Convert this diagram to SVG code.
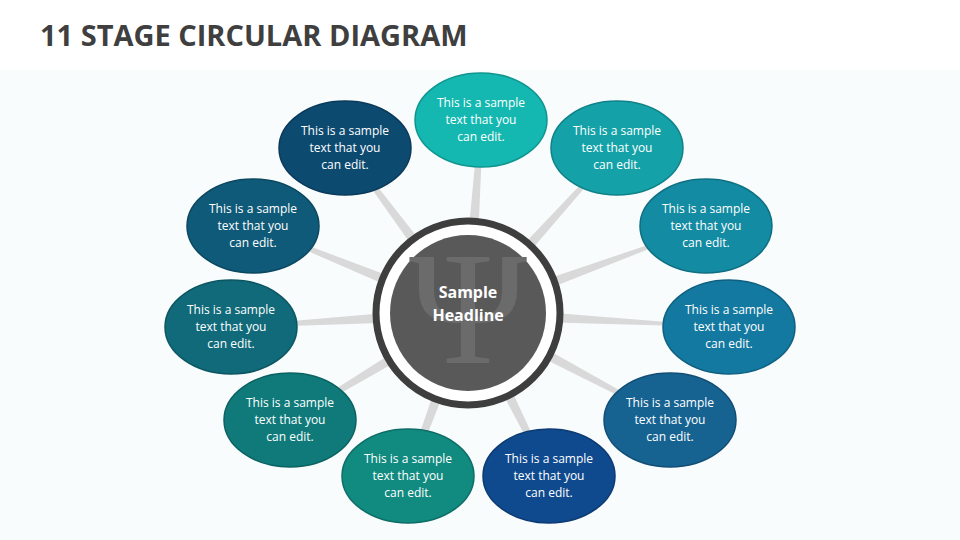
<svg xmlns="http://www.w3.org/2000/svg" width="960" height="540" viewBox="0 0 960 540">
<defs>
<polygon id="sp" points="0,-7 215,-1.5 215,1.5 0,7" fill="#d9d9d9"/>
</defs>
<style>
.t{font-family:"Open Sans","Liberation Sans",sans-serif;font-size:12px;fill:#fff;text-anchor:middle}
.e{stroke-width:1.5}
</style>
<rect width="960" height="540" fill="#fff"/>
<rect y="70" width="960" height="470" fill="#f9fcfd"/>
<text x="40" y="46" font-family="'Open Sans','Liberation Sans',sans-serif" font-weight="bold" font-size="29" fill="#3f3f3f">11 STAGE CIRCULAR DIAGRAM</text>
<g id="connectors" transform="translate(468,313)">
<use href="#sp" transform="rotate(-86.1)"/>
<use href="#sp" transform="rotate(-47.9)"/>
<use href="#sp" transform="rotate(-20.1)"/>
<use href="#sp" transform="rotate(3.1)"/>
<use href="#sp" transform="rotate(27.9)"/>
<use href="#sp" transform="rotate(63.6)"/>
<use href="#sp" transform="rotate(110.2)"/>
<use href="#sp" transform="rotate(149)"/>
<use href="#sp" transform="rotate(176.6)"/>
<use href="#sp" transform="rotate(202)"/>
<use href="#sp" transform="rotate(233.3)"/>
</g>
<g id="center">
<circle cx="468" cy="313" r="92" fill="#fff" stroke="#3e3e3e" stroke-width="7"/>
<circle cx="468" cy="313" r="78" fill="#595959"/>
<text x="468" y="363" font-family="'Liberation Serif',serif" font-size="160" fill="#6b6b6b" text-anchor="middle">Ψ</text>
<text x="468" y="298" font-family="'Open Sans','Liberation Sans',sans-serif" font-weight="bold" font-size="16" fill="#fff" text-anchor="middle">Sample</text>
<text x="468" y="321" font-family="'Open Sans','Liberation Sans',sans-serif" font-weight="bold" font-size="16" fill="#fff" text-anchor="middle">Headline</text>
</g>
<g id="n1"><ellipse class="e" cx="481" cy="120" rx="66" ry="47" fill="#14b8b0" stroke="#0f958f"/><text class="t" x="481" y="107">This is a sample<tspan x="481" dy="17">text that you</tspan><tspan x="481" dy="17">can edit.</tspan></text></g>
<g id="n2"><ellipse class="e" cx="617" cy="148" rx="66" ry="47" fill="#14a2a8" stroke="#0f8288"/><text class="t" x="617" y="135">This is a sample<tspan x="617" dy="17">text that you</tspan><tspan x="617" dy="17">can edit.</tspan></text></g>
<g id="n3"><ellipse class="e" cx="706" cy="226" rx="66" ry="47" fill="#138ba2" stroke="#0f6f82"/><text class="t" x="706" y="213">This is a sample<tspan x="706" dy="17">text that you</tspan><tspan x="706" dy="17">can edit.</tspan></text></g>
<g id="n4"><ellipse class="e" cx="729" cy="327" rx="66" ry="47" fill="#1479a0" stroke="#0f6080"/><text class="t" x="729" y="314">This is a sample<tspan x="729" dy="17">text that you</tspan><tspan x="729" dy="17">can edit.</tspan></text></g>
<g id="n5"><ellipse class="e" cx="670" cy="420" rx="66" ry="47" fill="#166392" stroke="#114e75"/><text class="t" x="670" y="407">This is a sample<tspan x="670" dy="17">text that you</tspan><tspan x="670" dy="17">can edit.</tspan></text></g>
<g id="n6"><ellipse class="e" cx="549" cy="476" rx="66" ry="47" fill="#104a8e" stroke="#0c3a72"/><text class="t" x="549" y="463">This is a sample<tspan x="549" dy="17">text that you</tspan><tspan x="549" dy="17">can edit.</tspan></text></g>
<g id="n7"><ellipse class="e" cx="408" cy="476" rx="66" ry="47" fill="#118a80" stroke="#0d6e66"/><text class="t" x="408" y="463">This is a sample<tspan x="408" dy="17">text that you</tspan><tspan x="408" dy="17">can edit.</tspan></text></g>
<g id="n8"><ellipse class="e" cx="290" cy="420" rx="66" ry="47" fill="#107a7a" stroke="#0c6262"/><text class="t" x="290" y="407">This is a sample<tspan x="290" dy="17">text that you</tspan><tspan x="290" dy="17">can edit.</tspan></text></g>
<g id="n9"><ellipse class="e" cx="231" cy="327" rx="66" ry="47" fill="#106a7a" stroke="#0c5562"/><text class="t" x="231" y="314">This is a sample<tspan x="231" dy="17">text that you</tspan><tspan x="231" dy="17">can edit.</tspan></text></g>
<g id="n10"><ellipse class="e" cx="253" cy="226" rx="66" ry="47" fill="#0f5a78" stroke="#0b4860"/><text class="t" x="253" y="213">This is a sample<tspan x="253" dy="17">text that you</tspan><tspan x="253" dy="17">can edit.</tspan></text></g>
<g id="n11"><ellipse class="e" cx="345" cy="148" rx="66" ry="47" fill="#0d4a70" stroke="#0a3a5a"/><text class="t" x="345" y="135">This is a sample<tspan x="345" dy="17">text that you</tspan><tspan x="345" dy="17">can edit.</tspan></text></g>
</svg>
